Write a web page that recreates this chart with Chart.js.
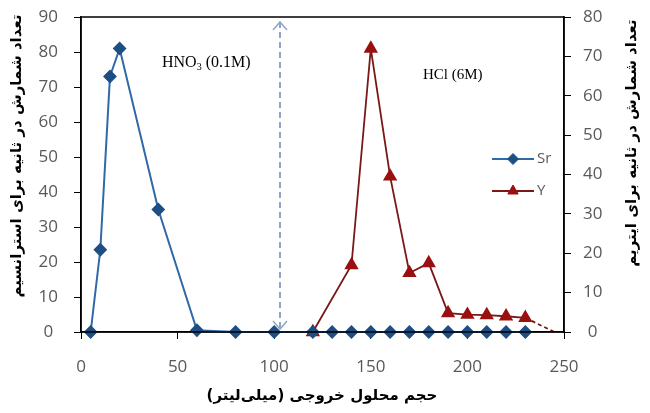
<!doctype html>
<html>
<head>
    <meta charset="UTF-8"/>
    <title>Sr / Y elution</title>
    <style type="text/css">
        body {
            margin: 0;
            padding: 0;
            background-color: #fff;
        }
        .chartBox {
            width: 650px;
            height: 413px;
        }
    </style>
</head>
<body>
    <div class="chartBox">
        <canvas id="myChart" width="650" height="413"></canvas>
    </div>

    <script src="https://cdn.jsdelivr.net/npm/chart.js"></script>

    <script>
        // Sr (left axis)
        const srVolume = [5, 10, 15, 20, 40, 60, 80, 100, 120, 130, 140, 150, 160, 170, 180, 190, 200, 210, 220, 230];
        const srCounts = [0, 23.5, 73, 81, 35, 0.5, 0, 0, 0, 0, 0, 0, 0, 0, 0, 0, 0, 0, 0, 0];

        // Y (right axis)
        const yVolume = [120, 140, 150, 160, 170, 180, 190, 200, 210, 220, 230, 245];
        const yCounts = [0, 17, 72, 39.5, 15, 17.5, 4.8, 4.4, 4.3, 4, 3.6, 0];

        const xTicks = [0, 50, 100, 150, 200, 250];
        const leftTicks = [0, 10, 20, 30, 40, 50, 60, 70, 80, 90];
        const rightTicks = [0, 10, 20, 30, 40, 50, 60, 70, 80];

        // eluent change marker
        const switchVolume = 103;

        const labels = {
            x: 'حجم محلول خروجی (میلی\u200cلیتر)',
            left: 'تعداد شمارش در ثانیه برای استرانسیم',
            right: 'تعداد شمارش در ثانیه برای ایتریم',
            acid1: 'HNO',
            acid1Sub: '3',
            acid1Rest: ' (0.1M)',
            acid2: 'HCl (6M)'
        };

        const seriesNames = ['Sr', 'Y'];
        const srLine = '#2f69a8', srMark = '#1d4f85';
        const yLine = '#7a1818', yMark = '#9a1010';
        const tickFont = { family: 'Open Sans', size: 17 };
        const tickColor = '#595959';
        const arabicFont = 'bold 15px "DejaVu Sans"';

        const srData = srVolume.map((v, i) => ({ x: v, y: srCounts[i] }));
        const yData = yVolume.map((v, i) => ({ x: v, y: yCounts[i] }));

        function noPad(s) {
            s.paddingTop = 0;
            s.paddingBottom = 0;
            s.paddingLeft = 0;
            s.paddingRight = 0;
        }

        // Extra drawing: frame, arrow, notes, legend, axis titles
        const overlay = {
            id: 'overlay',
            afterDraw(chart) {
                const { ctx, chartArea: a, scales } = chart;
                ctx.save();

                // frame
                ctx.strokeStyle = '#000';
                ctx.lineWidth = 1.5;
                ctx.strokeRect(a.left, a.top, a.right - a.left, a.bottom - a.top);

                // dashed double arrow
                const ax = scales.x.getPixelForValue(switchVolume);
                const top = a.top + 5, bot = a.bottom - 3;
                ctx.strokeStyle = '#8ea7c7';
                ctx.lineWidth = 2;
                ctx.setLineDash([6, 4]);
                ctx.beginPath();
                ctx.moveTo(ax, top);
                ctx.lineTo(ax, bot);
                ctx.stroke();
                ctx.setLineDash([]);
                ctx.lineWidth = 1.5;
                ctx.beginPath();
                ctx.moveTo(ax - 7, top + 8);
                ctx.lineTo(ax, top);
                ctx.lineTo(ax + 7, top + 8);
                ctx.moveTo(ax - 7, bot - 8);
                ctx.lineTo(ax, bot);
                ctx.lineTo(ax + 7, bot - 8);
                ctx.stroke();

                // acid notes
                ctx.fillStyle = '#000';
                ctx.textBaseline = 'alphabetic';
                ctx.textAlign = 'left';
                ctx.font = '16px "Liberation Serif"';
                let tx = 162;
                ctx.fillText(labels.acid1, tx, 67);
                tx += ctx.measureText(labels.acid1).width;
                ctx.font = '10px "Liberation Serif"';
                ctx.fillText(labels.acid1Sub, tx, 70);
                tx += ctx.measureText(labels.acid1Sub).width;
                ctx.font = '16px "Liberation Serif"';
                ctx.fillText(labels.acid1Rest, tx, 67);
                ctx.font = '15px "Liberation Serif"';
                ctx.fillText(labels.acid2, 423, 79);

                // legend
                const rows = [
                    { name: seriesNames[0], y: 159, line: srLine, mark: srMark, shape: 'rectRot', r: 5.5 },
                    { name: seriesNames[1], y: 191, line: yLine, mark: yMark, shape: 'triangle', r: 6 }
                ];
                rows.forEach(row => {
                    ctx.strokeStyle = row.line;
                    ctx.lineWidth = 2;
                    ctx.beginPath();
                    ctx.moveTo(492, row.y);
                    ctx.lineTo(534, row.y);
                    ctx.stroke();
                    ctx.fillStyle = row.mark;
                    ctx.strokeStyle = row.mark;
                    ctx.lineWidth = 1;
                    Chart.helpers.drawPoint(ctx, { pointStyle: row.shape, radius: row.r, borderWidth: 1 }, 513, row.y);
                    ctx.fillStyle = tickColor;
                    ctx.font = '15px "Open Sans"';
                    ctx.textBaseline = 'middle';
                    ctx.textAlign = 'left';
                    ctx.fillText(row.name, 537, row.y);
                });

                // axis titles
                ctx.fillStyle = '#000';
                ctx.font = arabicFont;
                ctx.direction = 'rtl';
                ctx.textAlign = 'center';
                ctx.textBaseline = 'middle';
                ctx.fillText(labels.x, 322, 396);

                ctx.save();
                ctx.translate(17, 156);
                ctx.rotate(-Math.PI / 2);
                ctx.fillText(labels.left, 0, 0);
                ctx.restore();

                ctx.save();
                ctx.translate(632, 143);
                ctx.rotate(-Math.PI / 2);
                ctx.fillText(labels.right, 0, 0);
                ctx.restore();

                ctx.restore();
            }
        };

        const config = {
            type: 'line',
            data: {
                datasets: [
                    {
                        label: seriesNames[0],
                        data: srData,
                        yAxisID: 'y',
                        borderColor: srLine,
                        borderWidth: 2,
                        pointStyle: 'rectRot',
                        pointRadius: 5.5,
                        pointBackgroundColor: srMark,
                        pointBorderColor: srMark,
                        tension: 0,
                        clip: false
                    },
                    {
                        label: seriesNames[1],
                        data: yData,
                        yAxisID: 'y2',
                        borderColor: yLine,
                        borderWidth: 1.8,
                        pointStyle: 'triangle',
                        pointRadius: yData.map((p, i) => i === yData.length - 1 ? 0 : 6.5),
                        pointBackgroundColor: yMark,
                        pointBorderColor: yMark,
                        tension: 0,
                        clip: false,
                        segment: {
                            borderDash: ctx => ctx.p1DataIndex === yData.length - 1 ? [4, 3] : undefined
                        }
                    }
                ]
            },
            options: {
                responsive: false,
                animation: false,
                layout: { padding: { top: 17, left: 0, right: 0, bottom: 0 } },
                plugins: {
                    legend: { display: false },
                    tooltip: { enabled: false }
                },
                scales: {
                    x: {
                        type: 'linear',
                        min: 0,
                        max: 250,
                        afterBuildTicks: s => { s.ticks = xTicks.map(v => ({ value: v })); },
                        afterFit: s => { s.height = 81; noPad(s); },
                        grid: { drawOnChartArea: false, tickLength: 7, color: '#000' },
                        border: { color: '#000', width: 1.5 },
                        ticks: { font: tickFont, color: tickColor, padding: 18, maxRotation: 0 }
                    },
                    y: {
                        position: 'left',
                        min: 0,
                        max: 90,
                        afterBuildTicks: s => { s.ticks = leftTicks.map(v => ({ value: v })); },
                        afterFit: s => { s.width = 81; noPad(s); },
                        grid: { drawOnChartArea: false, tickLength: 7, color: '#000' },
                        border: { color: '#000', width: 1.5 },
                        ticks: { font: tickFont, color: tickColor, padding: 16, crossAlign: 'center' }
                    },
                    y2: {
                        position: 'right',
                        min: 0,
                        max: 80,
                        afterBuildTicks: s => { s.ticks = rightTicks.map(v => ({ value: v })); },
                        afterFit: s => { s.width = 86; noPad(s); },
                        grid: { drawOnChartArea: false, tickLength: 7, color: '#000' },
                        border: { color: '#000', width: 1.5 },
                        ticks: { font: tickFont, color: tickColor, padding: 12, crossAlign: 'center' }
                    }
                }
            },
            plugins: [overlay]
        };

        const myChart = new Chart(document.getElementById('myChart'), config);
    </script>
</body>
</html>
